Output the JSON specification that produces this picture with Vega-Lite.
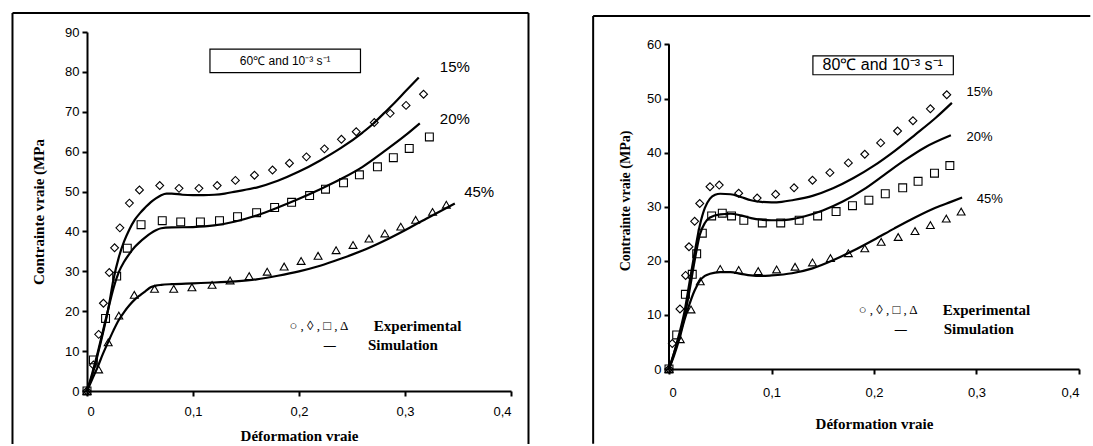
{
  "$schema": "https://vega.github.io/schema/vega-lite/v6.json",
  "background": "white",
  "padding": {"left": 11, "top": 12, "right": 0, "bottom": 0},
  "spacing": 62,
  "config": {
    "view": {"stroke": null},
    "axis": {"grid": false, "domainColor": "black", "domainWidth": 2, "tickColor": "black", "tickWidth": 2, "tickSize": 5, "labelColor": "black", "labelFont": "Liberation Sans", "labelFontSize": 13, "titleColor": "black", "titleFont": "Liberation Serif", "titleFontWeight": "bold"},
    "text": {"color": "black"}
  },
  "datasets": {
    "left_sim": [
      {"series":"15%","x":0,"y":0},{"series":"15%","x":0.005,"y":4},{"series":"15%","x":0.01,"y":9},{"series":"15%","x":0.015,"y":14.5},{"series":"15%","x":0.02,"y":20.5},{"series":"15%","x":0.025,"y":28},{"series":"15%","x":0.03,"y":33.5},{"series":"15%","x":0.035,"y":37.5},{"series":"15%","x":0.04,"y":40.5},{"series":"15%","x":0.045,"y":42.9},{"series":"15%","x":0.05,"y":44.6},{"series":"15%","x":0.055,"y":46},{"series":"15%","x":0.06,"y":47.3},{"series":"15%","x":0.065,"y":48.3},{"series":"15%","x":0.07,"y":49.1},{"series":"15%","x":0.075,"y":49.5},{"series":"15%","x":0.08,"y":49.5},{"series":"15%","x":0.09,"y":49.2},{"series":"15%","x":0.1,"y":49.1},{"series":"15%","x":0.11,"y":49.1},{"series":"15%","x":0.12,"y":49.2},{"series":"15%","x":0.13,"y":49.5},{"series":"15%","x":0.14,"y":50},{"series":"15%","x":0.16,"y":51},{"series":"15%","x":0.18,"y":52.7},{"series":"15%","x":0.2,"y":55},{"series":"15%","x":0.22,"y":57.8},{"series":"15%","x":0.24,"y":61},{"series":"15%","x":0.26,"y":64.8},{"series":"15%","x":0.27,"y":67},{"series":"15%","x":0.28,"y":69.6},{"series":"15%","x":0.29,"y":72.2},{"series":"15%","x":0.3,"y":75},{"series":"15%","x":0.313,"y":78.6},
      {"series":"20%","x":0,"y":0},{"series":"20%","x":0.005,"y":4.5},{"series":"20%","x":0.01,"y":9.5},{"series":"20%","x":0.015,"y":15},{"series":"20%","x":0.02,"y":20.5},{"series":"20%","x":0.025,"y":25.8},{"series":"20%","x":0.03,"y":29.8},{"series":"20%","x":0.035,"y":32.4},{"series":"20%","x":0.04,"y":34.4},{"series":"20%","x":0.045,"y":36.1},{"series":"20%","x":0.05,"y":37.4},{"series":"20%","x":0.055,"y":38.5},{"series":"20%","x":0.06,"y":39.5},{"series":"20%","x":0.065,"y":40.3},{"series":"20%","x":0.07,"y":40.8},{"series":"20%","x":0.08,"y":41},{"series":"20%","x":0.1,"y":41.1},{"series":"20%","x":0.12,"y":41.5},{"series":"20%","x":0.14,"y":42.5},{"series":"20%","x":0.16,"y":44},{"series":"20%","x":0.18,"y":46},{"series":"20%","x":0.2,"y":48.2},{"series":"20%","x":0.22,"y":50.6},{"series":"20%","x":0.24,"y":53.2},{"series":"20%","x":0.26,"y":56.2},{"series":"20%","x":0.28,"y":60},{"series":"20%","x":0.3,"y":64},{"series":"20%","x":0.314,"y":67.1},
      {"series":"45%","x":0,"y":0},{"series":"45%","x":0.005,"y":3},{"series":"45%","x":0.01,"y":6},{"series":"45%","x":0.015,"y":9.3},{"series":"45%","x":0.02,"y":12.3},{"series":"45%","x":0.025,"y":15.2},{"series":"45%","x":0.03,"y":17.8},{"series":"45%","x":0.035,"y":19.8},{"series":"45%","x":0.04,"y":21.5},{"series":"45%","x":0.045,"y":22.9},{"series":"45%","x":0.05,"y":24},{"series":"45%","x":0.055,"y":25},{"series":"45%","x":0.06,"y":26},{"series":"45%","x":0.065,"y":26.4},{"series":"45%","x":0.07,"y":26.6},{"series":"45%","x":0.08,"y":26.8},{"series":"45%","x":0.1,"y":27},{"series":"45%","x":0.12,"y":27.2},{"series":"45%","x":0.14,"y":27.5},{"series":"45%","x":0.16,"y":28},{"series":"45%","x":0.18,"y":28.9},{"series":"45%","x":0.2,"y":30},{"series":"45%","x":0.22,"y":31.4},{"series":"45%","x":0.24,"y":33.2},{"series":"45%","x":0.26,"y":35.2},{"series":"45%","x":0.28,"y":37.6},{"series":"45%","x":0.3,"y":40.3},{"series":"45%","x":0.32,"y":43.2},{"series":"45%","x":0.347,"y":47}
    ],
    "left_exp": [
      {"series":"15%","x":0,"y":0},{"series":"15%","x":0.006,"y":6.5},{"series":"15%","x":0.011,"y":14.2},{"series":"15%","x":0.0155,"y":22},{"series":"15%","x":0.021,"y":29.7},{"series":"15%","x":0.026,"y":35.9},{"series":"15%","x":0.031,"y":40.9},{"series":"15%","x":0.04,"y":47.1},{"series":"15%","x":0.0495,"y":50.4},{"series":"15%","x":0.0686,"y":51.5},{"series":"15%","x":0.0868,"y":50.8},{"series":"15%","x":0.1056,"y":50.8},{"series":"15%","x":0.1228,"y":51.5},{"series":"15%","x":0.14,"y":52.8},{"series":"15%","x":0.158,"y":54.1},{"series":"15%","x":0.175,"y":55.4},{"series":"15%","x":0.191,"y":57.1},{"series":"15%","x":0.207,"y":58.7},{"series":"15%","x":0.224,"y":60.7},{"series":"15%","x":0.24,"y":63.1},{"series":"15%","x":0.254,"y":65},{"series":"15%","x":0.271,"y":67.3},{"series":"15%","x":0.286,"y":69.6},{"series":"15%","x":0.301,"y":71.6},{"series":"15%","x":0.3175,"y":74.4},
      {"series":"20%","x":0,"y":0},{"series":"20%","x":0.006,"y":7.8},{"series":"20%","x":0.0175,"y":18.2},{"series":"20%","x":0.028,"y":28.8},{"series":"20%","x":0.038,"y":35.8},{"series":"20%","x":0.051,"y":41.7},{"series":"20%","x":0.071,"y":42.7},{"series":"20%","x":0.0884,"y":42.4},{"series":"20%","x":0.107,"y":42.4},{"series":"20%","x":0.125,"y":42.7},{"series":"20%","x":0.142,"y":43.7},{"series":"20%","x":0.16,"y":44.7},{"series":"20%","x":0.177,"y":46},{"series":"20%","x":0.193,"y":47.3},{"series":"20%","x":0.21,"y":49},{"series":"20%","x":0.225,"y":50.6},{"series":"20%","x":0.242,"y":52.2},{"series":"20%","x":0.257,"y":54.2},{"series":"20%","x":0.274,"y":56.2},{"series":"20%","x":0.289,"y":58.5},{"series":"20%","x":0.304,"y":60.8},{"series":"20%","x":0.323,"y":63.7},
      {"series":"45%","x":0,"y":0},{"series":"45%","x":0.011,"y":5.4},{"series":"45%","x":0.02,"y":12.2},{"series":"45%","x":0.03,"y":18.9},{"series":"45%","x":0.0446,"y":24.1},{"series":"45%","x":0.0637,"y":25.6},{"series":"45%","x":0.0818,"y":25.6},{"series":"45%","x":0.099,"y":26},{"series":"45%","x":0.118,"y":26.6},{"series":"45%","x":0.135,"y":27.7},{"series":"45%","x":0.153,"y":28.8},{"series":"45%","x":0.17,"y":29.9},{"series":"45%","x":0.186,"y":31.2},{"series":"45%","x":0.202,"y":32.6},{"series":"45%","x":0.218,"y":33.9},{"series":"45%","x":0.235,"y":35.3},{"series":"45%","x":0.251,"y":36.6},{"series":"45%","x":0.266,"y":38.2},{"series":"45%","x":0.281,"y":39.5},{"series":"45%","x":0.296,"y":41.2},{"series":"45%","x":0.31,"y":42.9},{"series":"45%","x":0.326,"y":44.9},{"series":"45%","x":0.339,"y":46.7}
    ],
    "right_sim": [
      {"series":"15%","x":0,"y":0},{"series":"15%","x":0.005,"y":3},{"series":"15%","x":0.01,"y":6.5},{"series":"15%","x":0.015,"y":10.5},{"series":"15%","x":0.02,"y":16},{"series":"15%","x":0.025,"y":21.5},{"series":"15%","x":0.03,"y":26.5},{"series":"15%","x":0.035,"y":29.8},{"series":"15%","x":0.04,"y":31.5},{"series":"15%","x":0.045,"y":32.2},{"series":"15%","x":0.05,"y":32.4},{"series":"15%","x":0.06,"y":32.3},{"series":"15%","x":0.07,"y":31.8},{"series":"15%","x":0.08,"y":31.2},{"series":"15%","x":0.09,"y":30.9},{"series":"15%","x":0.1,"y":30.8},{"series":"15%","x":0.11,"y":30.9},{"series":"15%","x":0.12,"y":31.2},{"series":"15%","x":0.14,"y":32},{"series":"15%","x":0.16,"y":33.4},{"series":"15%","x":0.18,"y":35.3},{"series":"15%","x":0.2,"y":37.6},{"series":"15%","x":0.22,"y":40.3},{"series":"15%","x":0.24,"y":43.3},{"series":"15%","x":0.26,"y":46.4},{"series":"15%","x":0.276,"y":49.2},
      {"series":"20%","x":0,"y":0},{"series":"20%","x":0.005,"y":3},{"series":"20%","x":0.01,"y":6},{"series":"20%","x":0.015,"y":9.5},{"series":"20%","x":0.02,"y":14.5},{"series":"20%","x":0.025,"y":20},{"series":"20%","x":0.03,"y":24.8},{"series":"20%","x":0.035,"y":27},{"series":"20%","x":0.04,"y":28},{"series":"20%","x":0.05,"y":28.6},{"series":"20%","x":0.06,"y":28.7},{"series":"20%","x":0.07,"y":28.4},{"series":"20%","x":0.08,"y":27.9},{"series":"20%","x":0.09,"y":27.6},{"series":"20%","x":0.1,"y":27.5},{"series":"20%","x":0.11,"y":27.5},{"series":"20%","x":0.12,"y":27.7},{"series":"20%","x":0.13,"y":28.1},{"series":"20%","x":0.15,"y":29.3},{"series":"20%","x":0.17,"y":31},{"series":"20%","x":0.19,"y":33.2},{"series":"20%","x":0.21,"y":35.9},{"series":"20%","x":0.23,"y":38.6},{"series":"20%","x":0.25,"y":41},{"series":"20%","x":0.275,"y":43.2},
      {"series":"45%","x":0,"y":0},{"series":"45%","x":0.005,"y":2.5},{"series":"45%","x":0.01,"y":5.5},{"series":"45%","x":0.015,"y":9},{"series":"45%","x":0.02,"y":12},{"series":"45%","x":0.025,"y":14.5},{"series":"45%","x":0.03,"y":16.3},{"series":"45%","x":0.035,"y":17.2},{"series":"45%","x":0.04,"y":17.6},{"series":"45%","x":0.05,"y":17.9},{"series":"45%","x":0.06,"y":17.9},{"series":"45%","x":0.07,"y":17.6},{"series":"45%","x":0.08,"y":17.3},{"series":"45%","x":0.09,"y":17.2},{"series":"45%","x":0.1,"y":17.3},{"series":"45%","x":0.12,"y":17.7},{"series":"45%","x":0.14,"y":18.6},{"series":"45%","x":0.16,"y":20.1},{"series":"45%","x":0.18,"y":21.9},{"series":"45%","x":0.2,"y":23.9},{"series":"45%","x":0.22,"y":26},{"series":"45%","x":0.24,"y":28},{"series":"45%","x":0.26,"y":29.8},{"series":"45%","x":0.275,"y":30.9},{"series":"45%","x":0.286,"y":31.7}
    ],
    "right_exp": [
      {"series":"15%","x":0,"y":0},{"series":"15%","x":0.0032,"y":4.7},{"series":"15%","x":0.0107,"y":11.1},{"series":"15%","x":0.0162,"y":17.3},{"series":"15%","x":0.0195,"y":22.6},{"series":"15%","x":0.025,"y":27.3},{"series":"15%","x":0.03,"y":30.6},{"series":"15%","x":0.04,"y":33.7},{"series":"15%","x":0.049,"y":34},{"series":"15%","x":0.068,"y":32.5},{"series":"15%","x":0.086,"y":31.6},{"series":"15%","x":0.104,"y":32.3},{"series":"15%","x":0.122,"y":33.5},{"series":"15%","x":0.14,"y":34.9},{"series":"15%","x":0.157,"y":36.3},{"series":"15%","x":0.175,"y":38.1},{"series":"15%","x":0.191,"y":39.7},{"series":"15%","x":0.2065,"y":41.8},{"series":"15%","x":0.223,"y":44},{"series":"15%","x":0.238,"y":45.9},{"series":"15%","x":0.255,"y":48.1},{"series":"15%","x":0.271,"y":50.7},
      {"series":"20%","x":0,"y":0},{"series":"20%","x":0.0075,"y":6.3},{"series":"20%","x":0.016,"y":13.8},{"series":"20%","x":0.0227,"y":17.5},{"series":"20%","x":0.027,"y":21.3},{"series":"20%","x":0.0325,"y":25.1},{"series":"20%","x":0.0416,"y":28.3},{"series":"20%","x":0.052,"y":28.8},{"series":"20%","x":0.061,"y":28.3},{"series":"20%","x":0.073,"y":27.5},{"series":"20%","x":0.091,"y":27},{"series":"20%","x":0.109,"y":27},{"series":"20%","x":0.127,"y":27.5},{"series":"20%","x":0.145,"y":28.3},{"series":"20%","x":0.163,"y":29.1},{"series":"20%","x":0.179,"y":30.2},{"series":"20%","x":0.195,"y":31.2},{"series":"20%","x":0.211,"y":32.4},{"series":"20%","x":0.228,"y":33.5},{"series":"20%","x":0.243,"y":34.7},{"series":"20%","x":0.259,"y":36.2},{"series":"20%","x":0.274,"y":37.6},
      {"series":"45%","x":0,"y":0},{"series":"45%","x":0.011,"y":5.5},{"series":"45%","x":0.0215,"y":11},{"series":"45%","x":0.0305,"y":16.2},{"series":"45%","x":0.05,"y":18.5},{"series":"45%","x":0.068,"y":18.3},{"series":"45%","x":0.087,"y":18.1},{"series":"45%","x":0.105,"y":18.4},{"series":"45%","x":0.123,"y":18.9},{"series":"45%","x":0.14,"y":19.7},{"series":"45%","x":0.1575,"y":20.5},{"series":"45%","x":0.175,"y":21.4},{"series":"45%","x":0.191,"y":22.3},{"series":"45%","x":0.207,"y":23.5},{"series":"45%","x":0.2236,"y":24.4},{"series":"45%","x":0.24,"y":25.5},{"series":"45%","x":0.255,"y":26.6},{"series":"45%","x":0.2705,"y":27.8},{"series":"45%","x":0.285,"y":29.1}
    ]
  },
  "hconcat": [
    {
      "width": 424,
      "height": 359,
      "encoding": {
        "x": {"type": "quantitative", "scale": {"domain": [0, 0.4], "nice": false}, "axis": {"values": [0, 0.1, 0.2, 0.3, 0.4], "labelExpr": "datum.value == 0 ? '0' : replace(format(datum.value, '.1f'), '.', ',')", "title": "Déformation vraie", "titleFontSize": 15, "labelPadding": 9, "titlePadding": 10}},
        "y": {"type": "quantitative", "scale": {"domain": [0, 90], "nice": false}, "axis": {"values": [0, 10, 20, 30, 40, 50, 60, 70, 80, 90], "title": "Contrainte vraie (MPa", "titleFontSize": 15, "labelPadding": 3, "titlePadding": 18}}
      },
      "layer": [
        {"data": {"name": "left_sim"}, "mark": {"type": "line", "color": "black", "strokeWidth": 2.2, "interpolate": "monotone"}, "encoding": {"x": {"field": "x"}, "y": {"field": "y"}, "detail": {"field": "series", "type": "nominal"}}},
        {"data": {"name": "left_exp"}, "mark": {"type": "point", "filled": false, "stroke": "black", "strokeWidth": 1.1, "size": 62, "opacity": 1}, "encoding": {"x": {"field": "x"}, "y": {"field": "y"}, "shape": {"field": "series", "type": "nominal", "scale": {"domain": ["15%", "20%", "45%"], "range": ["diamond", "square", "triangle-up"]}, "legend": null}}},
        {"data": {"values": [{}]}, "mark": {"type": "rule", "color": "black", "strokeWidth": 2}, "encoding": {"x": {"datum": -0.0703}, "y": {"datum": -13.3}, "y2": {"datum": 94.76}}},
        {"data": {"values": [{}]}, "mark": {"type": "rule", "color": "black", "strokeWidth": 2}, "encoding": {"x": {"datum": 0.4165}, "y": {"datum": -13.3}, "y2": {"datum": 94.76}}},
        {"data": {"values": [{}]}, "mark": {"type": "rule", "color": "black", "strokeWidth": 2}, "encoding": {"x": {"datum": -0.0703}, "x2": {"datum": 0.4165}, "y": {"datum": 94.76}}},
        {"data": {"values": [{}]}, "mark": {"type": "rect", "fill": "white", "stroke": "black", "strokeWidth": 1.2}, "encoding": {"x": {"datum": 0.116}, "x2": {"datum": 0.258}, "y": {"datum": 79.8}, "y2": {"datum": 85.7}}},
        {"data": {"values": [{}]}, "mark": {"type": "text", "text": "60℃ and 10⁻³ s⁻¹", "font": "Liberation Sans", "fontSize": 12, "align": "center", "baseline": "middle"}, "encoding": {"x": {"datum": 0.187}, "y": {"datum": 82.8}}},
        {"data": {"values": [{}]}, "mark": {"type": "text", "text": "15%", "font": "Liberation Sans", "fontSize": 15, "align": "center", "baseline": "middle"}, "encoding": {"x": {"datum": 0.347}, "y": {"datum": 81.3}}},
        {"data": {"values": [{}]}, "mark": {"type": "text", "text": "20%", "font": "Liberation Sans", "fontSize": 15, "align": "center", "baseline": "middle"}, "encoding": {"x": {"datum": 0.347}, "y": {"datum": 68.3}}},
        {"data": {"values": [{}]}, "mark": {"type": "text", "text": "45%", "font": "Liberation Sans", "fontSize": 15, "align": "center", "baseline": "middle"}, "encoding": {"x": {"datum": 0.37}, "y": {"datum": 50}}},
        {"data": {"values": [{}]}, "mark": {"type": "text", "text": "○ , ◊ , □ , Δ", "font": "Liberation Serif", "fontSize": 13, "align": "left", "baseline": "middle"}, "encoding": {"x": {"datum": 0.191}, "y": {"datum": 16.3}}},
        {"data": {"values": [{}]}, "mark": {"type": "text", "text": "Experimental", "font": "Liberation Serif", "fontSize": 15, "fontWeight": "bold", "align": "left", "baseline": "middle"}, "encoding": {"x": {"datum": 0.2706}, "y": {"datum": 16.3}}},
        {"data": {"values": [{}]}, "mark": {"type": "text", "text": "—", "font": "Liberation Serif", "fontSize": 12, "fontWeight": "bold", "align": "center", "baseline": "middle"}, "encoding": {"x": {"datum": 0.229}, "y": {"datum": 11.5}}},
        {"data": {"values": [{}]}, "mark": {"type": "text", "text": "Simulation", "font": "Liberation Serif", "fontSize": 15, "fontWeight": "bold", "align": "left", "baseline": "middle"}, "encoding": {"x": {"datum": 0.265}, "y": {"datum": 11.5}}}
      ]
    },
    {
      "width": 410,
      "height": 337,
      "encoding": {
        "x": {"type": "quantitative", "scale": {"domain": [0, 0.4], "nice": false}, "axis": {"values": [0, 0.1, 0.2, 0.3, 0.4], "labelExpr": "datum.value == 0 ? '0' : replace(format(datum.value, '.1f'), '.', ',')", "title": "Déformation vraie", "titleFontSize": 15, "labelPadding": 12, "titlePadding": 17}},
        "y": {"type": "quantitative", "scale": {"domain": [0, 62.3], "nice": false}, "axis": {"values": [0, 10, 20, 30, 40, 50, 60], "domain": false, "title": "Contrainte vraie (MPa)", "titleFontSize": 14, "labelPadding": 3, "titlePadding": 14}}
      },
      "layer": [
        {"data": {"name": "right_sim"}, "mark": {"type": "line", "color": "black", "strokeWidth": 2.2, "interpolate": "monotone"}, "encoding": {"x": {"field": "x"}, "y": {"field": "y"}, "detail": {"field": "series", "type": "nominal"}}},
        {"data": {"name": "right_exp"}, "mark": {"type": "point", "filled": false, "stroke": "black", "strokeWidth": 1.1, "size": 62, "opacity": 1}, "encoding": {"x": {"field": "x"}, "y": {"field": "y"}, "shape": {"field": "series", "type": "nominal", "scale": {"domain": ["15%", "20%", "45%"], "range": ["diamond", "square", "triangle-up"]}, "legend": null}}},
        {"data": {"values": [{}]}, "mark": {"type": "rule", "color": "black", "strokeWidth": 2}, "encoding": {"x": {"datum": 0}, "y": {"datum": 0}, "y2": {"datum": 60}}},
        {"data": {"values": [{}]}, "mark": {"type": "rule", "color": "black", "strokeWidth": 2}, "encoding": {"x": {"datum": -0.074}, "y": {"datum": -13.8}, "y2": {"datum": 65.26}}},
        {"data": {"values": [{}]}, "mark": {"type": "rule", "color": "black", "strokeWidth": 2}, "encoding": {"x": {"datum": -0.074}, "x2": {"datum": 0.411}, "y": {"datum": 65.26}}},
        {"data": {"values": [{}]}, "mark": {"type": "rect", "fill": "white", "stroke": "black", "strokeWidth": 1.2}, "encoding": {"x": {"datum": 0.1404}, "x2": {"datum": 0.2774}, "y": {"datum": 54.4}, "y2": {"datum": 57.9}}},
        {"data": {"values": [{}]}, "mark": {"type": "text", "text": "80℃ and 10⁻³ s⁻¹", "font": "Liberation Sans", "fontSize": 16, "align": "center", "baseline": "middle"}, "encoding": {"x": {"datum": 0.2085}, "y": {"datum": 56.2}}},
        {"data": {"values": [{}]}, "mark": {"type": "text", "text": "15%", "font": "Liberation Sans", "fontSize": 13, "align": "center", "baseline": "middle"}, "encoding": {"x": {"datum": 0.303}, "y": {"datum": 51.2}}},
        {"data": {"values": [{}]}, "mark": {"type": "text", "text": "20%", "font": "Liberation Sans", "fontSize": 13, "align": "center", "baseline": "middle"}, "encoding": {"x": {"datum": 0.303}, "y": {"datum": 42.9}}},
        {"data": {"values": [{}]}, "mark": {"type": "text", "text": "45%", "font": "Liberation Sans", "fontSize": 13, "align": "center", "baseline": "middle"}, "encoding": {"x": {"datum": 0.313}, "y": {"datum": 31.5}}},
        {"data": {"values": [{}]}, "mark": {"type": "text", "text": "○ , ◊ , □ , Δ", "font": "Liberation Serif", "fontSize": 13, "align": "left", "baseline": "middle"}, "encoding": {"x": {"datum": 0.185}, "y": {"datum": 10.9}}},
        {"data": {"values": [{}]}, "mark": {"type": "text", "text": "Experimental", "font": "Liberation Serif", "fontSize": 15, "fontWeight": "bold", "align": "left", "baseline": "middle"}, "encoding": {"x": {"datum": 0.267}, "y": {"datum": 10.9}}},
        {"data": {"values": [{}]}, "mark": {"type": "text", "text": "—", "font": "Liberation Serif", "fontSize": 12, "fontWeight": "bold", "align": "center", "baseline": "middle"}, "encoding": {"x": {"datum": 0.226}, "y": {"datum": 7.4}}},
        {"data": {"values": [{}]}, "mark": {"type": "text", "text": "Simulation", "font": "Liberation Serif", "fontSize": 15, "fontWeight": "bold", "align": "left", "baseline": "middle"}, "encoding": {"x": {"datum": 0.268}, "y": {"datum": 7.4}}}
      ]
    }
  ]
}
